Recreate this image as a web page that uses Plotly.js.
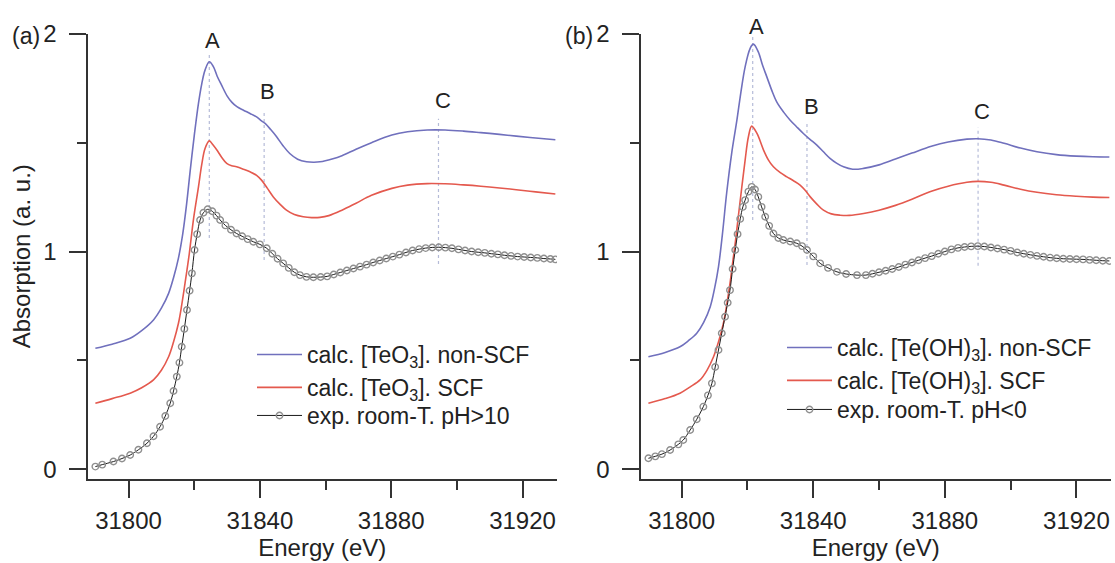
<!DOCTYPE html>
<html>
<head>
<meta charset="utf-8">
<script src="https://cdn.plot.ly/plotly-3.0.1.min.js"></script>
<style>html,body{margin:0;padding:0;background:#fff;}#chart{width:1115px;height:563px;}</style>
</head>
<body>
<div id="chart"></div>
<script>
// ---------- Panel (a): [TeO3] ----------
const aCalcNonScfX = [31789.9,31795,31800.5,31804,31807.6,31810,31812.2,31813.7,31815.2,31816.5,31817.7,31818.8,31820,31821.3,31822.3,31823.3,31824.6,31825.8,31827,31828.3,31830,31831.5,31833,31835,31837,31839,31840.5,31841.6,31843.3,31845.1,31847,31849.1,31851.5,31854.2,31856.5,31858.3,31862,31865,31869.3,31874,31880.2,31885,31891,31896.4,31902,31907.3,31913,31918.1,31924,31930];
const aCalcNonScfY = [0.556,0.575,0.602,0.637,0.686,0.74,0.808,0.88,0.97,1.08,1.22,1.374,1.53,1.68,1.77,1.833,1.871,1.85,1.805,1.765,1.715,1.685,1.665,1.649,1.634,1.618,1.6,1.588,1.56,1.527,1.487,1.45,1.424,1.412,1.41,1.412,1.425,1.44,1.47,1.5,1.535,1.55,1.558,1.558,1.553,1.546,1.538,1.53,1.521,1.513];

const aCalcScfX = [31789.9,31795,31800.5,31804,31807.6,31810,31812.2,31813.7,31815.2,31816.2,31817.2,31818.5,31819.8,31821.3,31822.3,31823.3,31824.6,31825.7,31826.9,31828.4,31829.9,31831.4,31832.9,31835,31837,31839,31840.5,31842.3,31844.1,31846.1,31848.1,31850.5,31853.2,31855.8,31858.3,31861,31865,31869.3,31874,31880.2,31885,31891,31896.4,31902,31907.3,31913,31918.1,31924,31930];
const aCalcScfY = [0.304,0.325,0.35,0.375,0.411,0.455,0.517,0.585,0.671,0.755,0.854,0.99,1.15,1.297,1.4,1.473,1.508,1.49,1.466,1.432,1.405,1.394,1.389,1.378,1.366,1.35,1.328,1.29,1.251,1.218,1.19,1.17,1.16,1.156,1.157,1.165,1.19,1.222,1.258,1.29,1.305,1.312,1.311,1.306,1.3,1.292,1.284,1.274,1.264];

const aExpX = [31789.9,31792,31795.4,31798,31800.5,31803,31805.6,31807.6,31809.6,31811.2,31812.7,31813.7,31814.7,31815.5,31816.2,31817,31817.8,31818.6,31819.3,31820.1,31820.9,31821.8,31822.8,31824.1,31825.5,31826.8,31827.9,31829.5,31831.2,31832.9,31834.6,31836.3,31838,31840,31842.1,31843.8,31845.4,31847.1,31848.8,31850.5,31852.2,31854.2,31856.3,31858.5,31860.5,31862.5,31864.5,31866.5,31868.5,31870.5,31872.5,31874.5,31876.5,31878.5,31880.5,31882.5,31884.5,31886.5,31888.5,31890.5,31892.5,31894.5,31896.5,31898.5,31900.5,31902.5,31904.5,31906.5,31908.5,31910.5,31912.5,31914.5,31916.5,31918.5,31920.5,31922.5,31924.5,31926.5,31928.5,31930];
const aExpY = [0.013,0.022,0.036,0.05,0.066,0.09,0.12,0.152,0.196,0.245,0.304,0.36,0.426,0.49,0.563,0.645,0.732,0.82,0.9,1.007,1.08,1.145,1.178,1.194,1.185,1.165,1.145,1.12,1.1,1.083,1.07,1.057,1.045,1.033,1.015,0.99,0.967,0.946,0.925,0.905,0.892,0.884,0.882,0.883,0.886,0.895,0.904,0.913,0.922,0.931,0.94,0.95,0.959,0.968,0.977,0.986,0.996,1.005,1.011,1.016,1.019,1.02,1.018,1.015,1.01,1.005,1.0,0.997,0.994,0.99,0.987,0.983,0.98,0.977,0.975,0.973,0.971,0.968,0.966,0.964];

// ---------- Panel (b): [Te(OH)3] ----------
const bCalcNonScfX = [31789.9,31795,31799.5,31802,31804.6,31806.7,31808.7,31810,31811.2,31812.4,31813.7,31815.2,31816.8,31818,31819.3,31820.8,31821.8,31823.3,31824.6,31825.9,31827.4,31828.9,31831,31833,31835,31837,31839,31841.1,31843.1,31845.1,31847.2,31849.2,31852,31855.3,31860,31865,31870,31875.9,31881,31886.7,31890,31894,31898,31903,31908,31913.9,31920,31925,31930];
const bCalcNonScfY = [0.517,0.537,0.563,0.59,0.625,0.675,0.747,0.83,0.93,1.08,1.27,1.45,1.603,1.73,1.848,1.932,1.952,1.917,1.855,1.802,1.74,1.687,1.64,1.603,1.572,1.542,1.515,1.489,1.458,1.428,1.405,1.389,1.378,1.382,1.398,1.425,1.452,1.483,1.503,1.516,1.518,1.512,1.497,1.475,1.458,1.445,1.438,1.435,1.434];

const bCalcScfX = [31789.9,31795,31799.5,31802.5,31805.6,31807.7,31809.7,31811.2,31812.7,31813.7,31814.7,31815.6,31816.3,31817.3,31818.3,31819.3,31820.3,31821.3,31822.9,31824.9,31826.4,31827.9,31830,31832,31834,31836,31837.6,31839.1,31841.1,31843.1,31845.5,31848.2,31851,31855.3,31860,31865,31870,31875.9,31881,31886.7,31890,31894,31898,31903,31908,31913.9,31920,31925,31930];
const bCalcScfY = [0.304,0.325,0.35,0.378,0.411,0.455,0.517,0.585,0.671,0.755,0.854,0.96,1.04,1.17,1.297,1.42,1.527,1.576,1.542,1.466,1.42,1.389,1.362,1.343,1.325,1.305,1.28,1.251,1.218,1.19,1.173,1.167,1.166,1.175,1.19,1.212,1.24,1.277,1.3,1.318,1.322,1.318,1.305,1.286,1.272,1.261,1.254,1.25,1.248];

const bExpX = [31789.9,31792,31794,31796.5,31799,31800.5,31802.6,31804.6,31806.6,31808,31809.2,31810.2,31811.2,31812.2,31813.2,31814,31814.7,31815.5,31816.3,31817,31817.8,31818.6,31819.3,31820.3,31821.3,31822.3,31823.3,31824.3,31825.4,31826.6,31827.9,31829.4,31830.9,31833,31835,31836.6,31838.1,31840,31842.1,31844.5,31847.2,31850,31853.3,31856,31858,31860,31862,31864,31866,31868,31870,31872,31874,31876,31878,31880,31882,31884,31886,31888,31890,31892,31894,31896,31898,31900,31902,31904,31906,31908,31910,31912,31914,31916,31918,31920,31922,31924,31926,31928,31930];
const bExpY = [0.051,0.06,0.07,0.089,0.115,0.135,0.181,0.23,0.288,0.34,0.395,0.47,0.548,0.625,0.701,0.765,0.823,0.92,1.007,1.08,1.15,1.205,1.236,1.275,1.297,1.285,1.251,1.205,1.16,1.118,1.083,1.062,1.053,1.046,1.038,1.025,1.007,0.978,0.946,0.925,0.907,0.897,0.892,0.892,0.898,0.905,0.912,0.92,0.929,0.94,0.95,0.96,0.97,0.979,0.99,1.0,1.01,1.017,1.021,1.024,1.025,1.023,1.019,1.014,1.009,1.003,0.996,0.99,0.985,0.98,0.976,0.972,0.969,0.967,0.966,0.965,0.964,0.962,0.96,0.958,0.957];

// Feature marker lines A, B, C (energy, top, bottom) and label positions
const featureNames = ['A','B','C'];
const aFeatureX = [31824.6, 31841.3, 31894.4];
const aFeatureTop = [1.91, 1.649, 1.61];
const aFeatureBottom = [1.062, 0.961, 0.943];
const aLabelX = [31825.7, 31842.4, 31895.8];
const aLabelY = [1.967, 1.733, 1.693];
const bFeatureX = [31821.6, 31838.1, 31890.1];
const bFeatureTop = [1.99, 1.595, 1.569];
const bFeatureBottom = [1.145, 0.938, 0.935];
const bLabelX = [31822.9, 31839.6, 31891.4];
const bLabelY = [2.031, 1.664, 1.643];

// Legend names
const aNames = ['calc. [TeO<sub>3</sub>]. non-SCF', 'calc. [TeO<sub>3</sub>]. SCF', 'exp. room-T. pH>10'];
const bNames = ['calc. [Te(OH)<sub>3</sub>]. non-SCF', 'calc. [Te(OH)<sub>3</sub>]. SCF', 'exp. room-T. pH<0'];

// Axis ticks
const xTickVals = [31800, 31840, 31880, 31920];
const yTickVals = [0, 1, 2];

const FONT = '"Liberation Sans", Arial, Helvetica, sans-serif';
const BLUE = '#7070bd';
const RED = '#e4594e';
const AXC = '#333333';
const Y_TOP = 2.001;
const PX_PER_UNIT = 218;

function featureTraces(xs, tops, bottoms, xa, ya) {
  return xs.map((x, i) => ({
    x: [x, x], y: [bottoms[i], tops[i]], xaxis: xa, yaxis: ya,
    mode: 'lines', showlegend: false, hoverinfo: 'skip',
    line: {color: 'rgba(150,158,200,0.7)', width: 1.2, dash: 'dot'}
  }));
}

function panelTraces(xs, ys, names, xa, ya, leg, legExp) {
  return [
    {x: xs[0], y: ys[0], name: names[0], xaxis: xa, yaxis: ya, legend: leg, mode: 'lines',
     line: {color: BLUE, width: 1.6, shape: 'spline', smoothing: 1}},
    {x: xs[1], y: ys[1], name: names[1], xaxis: xa, yaxis: ya, legend: leg, mode: 'lines',
     line: {color: RED, width: 1.6, shape: 'spline', smoothing: 1}},
    {x: xs[2], y: ys[2], name: names[2], xaxis: xa, yaxis: ya, legend: legExp, mode: 'lines+markers',
     line: {color: '#1a1a1a', width: 1, shape: 'spline', smoothing: 1},
     marker: {symbol: 'circle-open', size: 6.5, color: '#8f8f8f', line: {width: 1.4, color: '#8f8f8f'}}}
  ];
}

const data = [
  ...featureTraces(aFeatureX, aFeatureTop, aFeatureBottom, 'x', 'y'),
  ...featureTraces(bFeatureX, bFeatureTop, bFeatureBottom, 'x2', 'y2'),
  ...panelTraces([aCalcNonScfX, aCalcScfX, aExpX], [aCalcNonScfY, aCalcScfY, aExpY], aNames, 'x', 'y', 'legend', 'legend3'),
  ...panelTraces([bCalcNonScfX, bCalcScfX, bExpX], [bCalcNonScfY, bCalcScfY, bExpY], bNames, 'x2', 'y2', 'legend2', 'legend4')
];

function xAxis(domain, anchor) {
  return {
    domain: domain, anchor: anchor, range: [31787.5, 31930.5],
    showline: true, linecolor: AXC, linewidth: 2, mirror: false,
    showgrid: false, zeroline: false,
    ticks: 'outside', ticklen: 17, tickwidth: 2, tickcolor: AXC,
    tickmode: 'array', tickvals: xTickVals, ticktext: xTickVals.map(String),
    minor: {ticks: 'outside', ticklen: 9, tickwidth: 2, tickcolor: AXC, dtick: 20, tick0: 31800, showgrid: false},
    tickfont: {family: FONT, size: 24, color: '#222'},
    ticklabelstandoff: 2,
    title: {text: 'Energy (eV)', font: {family: FONT, size: 24, color: '#222'}, standoff: 2}
  };
}
function yAxis(anchor, withTitle) {
  const ax = {
    domain: [1 - 479/563, 1 - 33.5/563], anchor: anchor, range: [-0.044, Y_TOP],
    showline: true, linecolor: AXC, linewidth: 2, mirror: false,
    showgrid: false, zeroline: false,
    ticks: 'outside', ticklen: 17, tickwidth: 2, tickcolor: AXC,
    tickmode: 'array', tickvals: yTickVals, ticktext: yTickVals.map(String),
    minor: {ticks: 'outside', ticklen: 9, tickwidth: 2, tickcolor: AXC, dtick: 0.5, tick0: 0, showgrid: false},
    tickfont: {family: FONT, size: 24, color: '#222'},
    ticklabelstandoff: 7
  };
  if (withTitle) ax.title = {text: 'Absorption (a. u.)', font: {family: FONT, size: 24, color: '#222'}, standoff: 6};
  return ax;
}

function labelAnnots(xs, ys, xref, yref) {
  return featureNames.map((t, i) => {
    const inside = Math.min(ys[i], Y_TOP);
    return {
      x: xs[i], y: inside, yshift: (ys[i] - inside) * PX_PER_UNIT,
      xref: xref, yref: yref, text: t, showarrow: false,
      font: {family: FONT, size: 22, color: '#222'}, xanchor: 'center', yanchor: 'middle'
    };
  });
}

function legendAt(xPx, yPx) {
  return {x: xPx/1115, y: 1 - yPx/563, xanchor: 'left', yanchor: 'top', bgcolor: 'rgba(0,0,0,0)',
          font: {family: FONT, size: 23, color: '#222'}, itemwidth: 45, tracegroupgap: 0};
}

const layout = {
  width: 1115, height: 563,
  margin: {l: 0, r: 0, t: 0, b: 0},
  paper_bgcolor: '#ffffff', plot_bgcolor: '#ffffff',
  font: {family: FONT, color: '#222'},
  xaxis: xAxis([87.5/1115, 557/1115], 'y'),
  yaxis: yAxis('x', true),
  xaxis2: xAxis([640.5/1115, 1111/1115], 'y2'),
  yaxis2: yAxis('x2', false),
  legend: legendAt(252, 333),
  legend3: legendAt(252, 394),
  legend2: legendAt(782, 326),
  legend4: legendAt(782, 388),
  annotations: [
    ...labelAnnots(aLabelX, aLabelY, 'x', 'y'),
    ...labelAnnots(bLabelX, bLabelY, 'x2', 'y2'),
    {x: 10/1115, y: 1 - 35.7/563, xref: 'paper', yref: 'paper', text: '(a)', showarrow: false,
     xanchor: 'left', yanchor: 'middle', font: {family: FONT, size: 23, color: '#222'}},
    {x: 563/1115, y: 1 - 35.7/563, xref: 'paper', yref: 'paper', text: '(b)', showarrow: false,
     xanchor: 'left', yanchor: 'middle', font: {family: FONT, size: 23, color: '#222'}}
  ],
  showlegend: true
};

Plotly.newPlot('chart', data, layout, {staticPlot: true, displayModeBar: false});
</script>
</body>
</html>
